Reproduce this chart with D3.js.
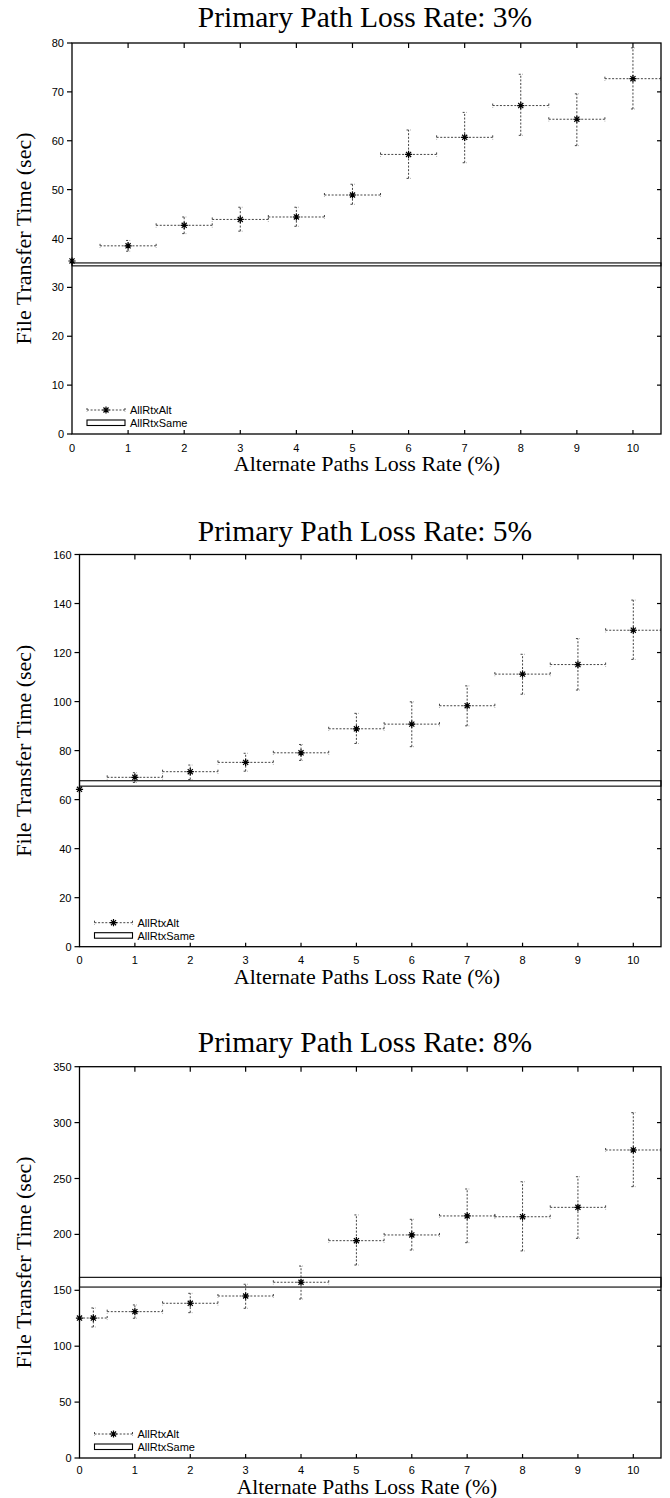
<!DOCTYPE html>
<html>
<head>
<meta charset="utf-8">
<script src="https://cdn.jsdelivr.net/npm/d3@7"></script>
<style>
  body { margin: 0; background: #fff; }
  svg { display: block; }
  .tick-label { font-family: "Liberation Sans", Arial, sans-serif; font-size: 11px; fill: #000; }
  .serif { font-family: "Liberation Serif", "Times New Roman", serif; fill: #000; }
</style>
</head>
<body>
<svg id="chart"></svg>
<script>
// 数据
const altX3 = [0, 1, 2, 3, 4, 5, 6, 7, 8, 9, 10];
const altDx3 = [0, 0.5, 0.5, 0.5, 0.5, 0.5, 0.5, 0.5, 0.5, 0.5, 0.5];
const altY3 = [35.4, 38.5, 42.7, 43.9, 44.4, 48.9, 57.2, 60.7, 67.2, 64.4, 72.7];
const altLo3 = [null, 37.4, 41.0, 41.5, 42.5, 47.0, 52.3, 55.5, 61.1, 59.0, 66.5];
const altHi3 = [null, 39.6, 44.4, 46.4, 46.4, 51.1, 62.2, 65.8, 73.6, 69.6, 79.0];
const same3 = [34.4, 35.0];

const altX5 = [0, 1, 2, 3, 4, 5, 6, 7, 8, 9, 10];
const altDx5 = [0, 0.5, 0.5, 0.5, 0.5, 0.5, 0.5, 0.5, 0.5, 0.5, 0.5];
const altY5 = [64.2, 69.1, 71.4, 75.2, 79.1, 88.9, 90.8, 98.3, 111.2, 115.1, 129.1];
const altLo5 = [null, 67.0, 68.2, 71.6, 76.0, 82.9, 81.6, 90.1, 103.0, 104.7, 117.2];
const altHi5 = [null, 71.0, 74.1, 78.9, 82.5, 95.2, 99.9, 106.4, 119.3, 125.7, 141.4];
const same5 = [65.5, 67.7];

const altX8 = [0, 0.25, 1, 2, 3, 4, 5, 6, 7, 8, 9, 10];
const altDx8 = [0, 0.25, 0.5, 0.5, 0.5, 0.5, 0.5, 0.5, 0.5, 0.5, 0.5, 0.5];
const altY8 = [125.2, 125.2, 130.9, 138.4, 144.9, 157.2, 194.4, 199.5, 216.5, 215.8, 224.2, 275.5];
const altLo8 = [null, 117.2, 125.0, 130.0, 133.9, 142.2, 172.6, 186.0, 192.6, 185.2, 196.5, 242.7];
const altHi8 = [null, 134.2, 136.9, 147.3, 155.4, 171.7, 217.4, 213.5, 240.6, 247.1, 251.6, 308.9];
const same8 = [152.9, 161.6];

const xTicks = [0, 1, 2, 3, 4, 5, 6, 7, 8, 9, 10];
const legendNames = ["AllRtxAlt", "AllRtxSame"];

const W = 670, H = 1498;
const svg = d3.select("#chart").attr("width", W).attr("height", H);

const panels = [
  { title: "Primary Path Loss Rate: 3%", xs: altX3, dx: altDx3, ys: altY3, lo: altLo3, hi: altHi3, same: same3,
    yMax: 80, yStep: 10, left: 72, right: 661, top: 43, bottom: 434, titleY: 27, xlabY: 471, tickDy: 13.5, xlabSize: 22 },
  { title: "Primary Path Loss Rate: 5%", xs: altX5, dx: altDx5, ys: altY5, lo: altLo5, hi: altHi5, same: same5,
    yMax: 160, yStep: 20, left: 79.5, right: 661, top: 554.5, bottom: 946.7, titleY: 540.5, xlabY: 984, tickDy: 13.5, xlabSize: 22 },
  { title: "Primary Path Loss Rate: 8%", xs: altX8, dx: altDx8, ys: altY8, lo: altLo8, hi: altHi8, same: same8,
    yMax: 350, yStep: 50, left: 79.5, right: 661, top: 1066.7, bottom: 1458, titleY: 1051.7, xlabY: 1493.5, tickDy: 12, xlabSize: 21.5 },
];

// 星号标记（gnuplot pt 3）
function star(g, x, y, r = 3.6) {
  const d = r * Math.SQRT1_2;
  g.append("path")
    .attr("d", `M${x - r},${y}H${x + r}M${x},${y - r}V${y + r}` +
      `M${x - d},${y - d}L${x + d},${y + d}M${x - d},${y + d}L${x + d},${y - d}`)
    .attr("stroke", "#000")
    .attr("stroke-width", 1.2)
    .attr("fill", "none");
}

function seg(g, x1, y1, x2, y2) {
  g.append("line")
    .attr("x1", x1).attr("y1", y1).attr("x2", x2).attr("y2", y2)
    .attr("stroke", "#444")
    .attr("stroke-width", 1)
    .attr("stroke-dasharray", "2,1.6");
}

panels.forEach((p, idx) => {
  const x = d3.scaleLinear().domain([0, 10.5]).range([p.left, p.right]);
  const y = d3.scaleLinear().domain([0, p.yMax]).range([p.bottom, p.top]);
  const g = svg.append("g").attr("class", `panel panel-${idx}`);

  // 标题
  g.append("text")
    .attr("class", "serif")
    .attr("x", 365).attr("y", p.titleY)
    .attr("text-anchor", "middle")
    .attr("font-size", 29.5)
    .text(p.title);

  // clip
  const clipId = `clip-${idx}`;
  g.append("clipPath").attr("id", clipId)
    .append("rect")
    .attr("x", p.left).attr("y", p.top)
    .attr("width", p.right - p.left).attr("height", p.bottom - p.top);

  // 坐标轴
  const yTicks = d3.range(0, p.yMax + 0.001, p.yStep);
  const tk = 5;
  const axisG = g.append("g").attr("class", "axes");
  // 左轴（刻度朝外）
  axisG.selectAll("line.yl").data(yTicks).join("line")
    .attr("x1", p.left - tk).attr("x2", p.left)
    .attr("y1", d => y(d)).attr("y2", d => y(d))
    .attr("stroke", "#000").attr("stroke-width", 1.2);
  // 右轴（刻度朝内）
  axisG.selectAll("line.yr").data(yTicks.slice(1, -1)).join("line")
    .attr("x1", p.right - 4).attr("x2", p.right)
    .attr("y1", d => y(d)).attr("y2", d => y(d))
    .attr("stroke", "#000").attr("stroke-width", 1.2);
  axisG.selectAll("text.ylab").data(yTicks).join("text")
    .attr("class", "tick-label")
    .attr("x", p.left - 8).attr("y", d => y(d))
    .attr("text-anchor", "end")
    .attr("dominant-baseline", "central")
    .text(d => d);
  // 上下刻度（朝内）
  axisG.selectAll("line.xb").data(xTicks.slice(1)).join("line")
    .attr("x1", d => x(d)).attr("x2", d => x(d))
    .attr("y1", p.bottom).attr("y2", p.bottom - 4)
    .attr("stroke", "#000").attr("stroke-width", 1.2);
  axisG.append("g").selectAll("line").data(xTicks.slice(1)).join("line")
    .attr("x1", d => x(d)).attr("x2", d => x(d))
    .attr("y1", p.top).attr("y2", p.top + 5)
    .attr("stroke", "#000").attr("stroke-width", 1.2);
  axisG.append("g").selectAll("text").data(xTicks).join("text")
    .attr("class", "tick-label")
    .attr("x", d => x(d)).attr("y", p.bottom + p.tickDy)
    .attr("text-anchor", "middle")
    .attr("dominant-baseline", "central")
    .text(d => d);

  // AllRtxSame 带
  g.append("rect")
    .attr("x", x(0)).attr("width", x(10.5) - x(0))
    .attr("y", y(p.same[1])).attr("height", y(p.same[0]) - y(p.same[1]))
    .attr("fill", "#fff").attr("stroke", "#000").attr("stroke-width", 1.1);

  // AllRtxAlt 误差线
  const bars = g.append("g").attr("clip-path", `url(#${clipId})`);
  const cap = 2;
  p.xs.forEach((xv, i) => {
    const cx = x(xv), cy = y(p.ys[i]);
    if (p.dx[i] > 0) {
      const x0 = x(xv - p.dx[i]), x1 = x(xv + p.dx[i]);
      seg(bars, x0, cy, x1, cy);
      seg(bars, x0, cy - cap, x0, cy + cap);
      seg(bars, x1, cy - cap, x1, cy + cap);
    }
    if (p.lo[i] != null) {
      const y0 = y(p.lo[i]), y1 = y(p.hi[i]);
      seg(bars, cx, y0, cx, y1);
      seg(bars, cx - cap, y0, cx + cap, y0);
      seg(bars, cx - cap, y1, cx + cap, y1);
    }
  });
  const pts = g.append("g");
  p.xs.forEach((xv, i) => star(pts, x(xv), y(p.ys[i])));

  // 边框
  g.append("rect")
    .attr("x", p.left).attr("y", p.top)
    .attr("width", p.right - p.left).attr("height", p.bottom - p.top)
    .attr("fill", "none").attr("stroke", "#000").attr("stroke-width", 1.3);

  // 图例
  const lx0 = p.left + 15, lx1 = p.left + 53, ly = p.bottom - 24;
  const lg = g.append("g").attr("class", "legend");
  seg(lg, lx0, ly, lx1, ly);
  seg(lg, lx0, ly - cap, lx0, ly + cap);
  seg(lg, lx1, ly - cap, lx1, ly + cap);
  star(lg, (lx0 + lx1) / 2, ly);
  lg.append("rect")
    .attr("x", lx0).attr("y", ly + 10)
    .attr("width", lx1 - lx0).attr("height", 5.5)
    .attr("fill", "#fff").attr("stroke", "#000").attr("stroke-width", 1.1);
  lg.selectAll("text").data(legendNames).join("text")
    .attr("class", "tick-label")
    .attr("x", lx1 + 5)
    .attr("y", (d, i) => ly + i * 13)
    .attr("dominant-baseline", "central")
    .text(d => d);

  // 轴标题
  g.append("text")
    .attr("class", "serif")
    .attr("x", 367).attr("y", p.xlabY)
    .attr("text-anchor", "middle")
    .attr("font-size", p.xlabSize)
    .text("Alternate Paths Loss Rate (%)");
  g.append("text")
    .attr("class", "serif")
    .attr("transform", `translate(31,${(p.top + p.bottom) / 2}) rotate(-90)`)
    .attr("text-anchor", "middle")
    .attr("font-size", 22)
    .text("File Transfer Time (sec)");
});
</script>
</body>
</html>
